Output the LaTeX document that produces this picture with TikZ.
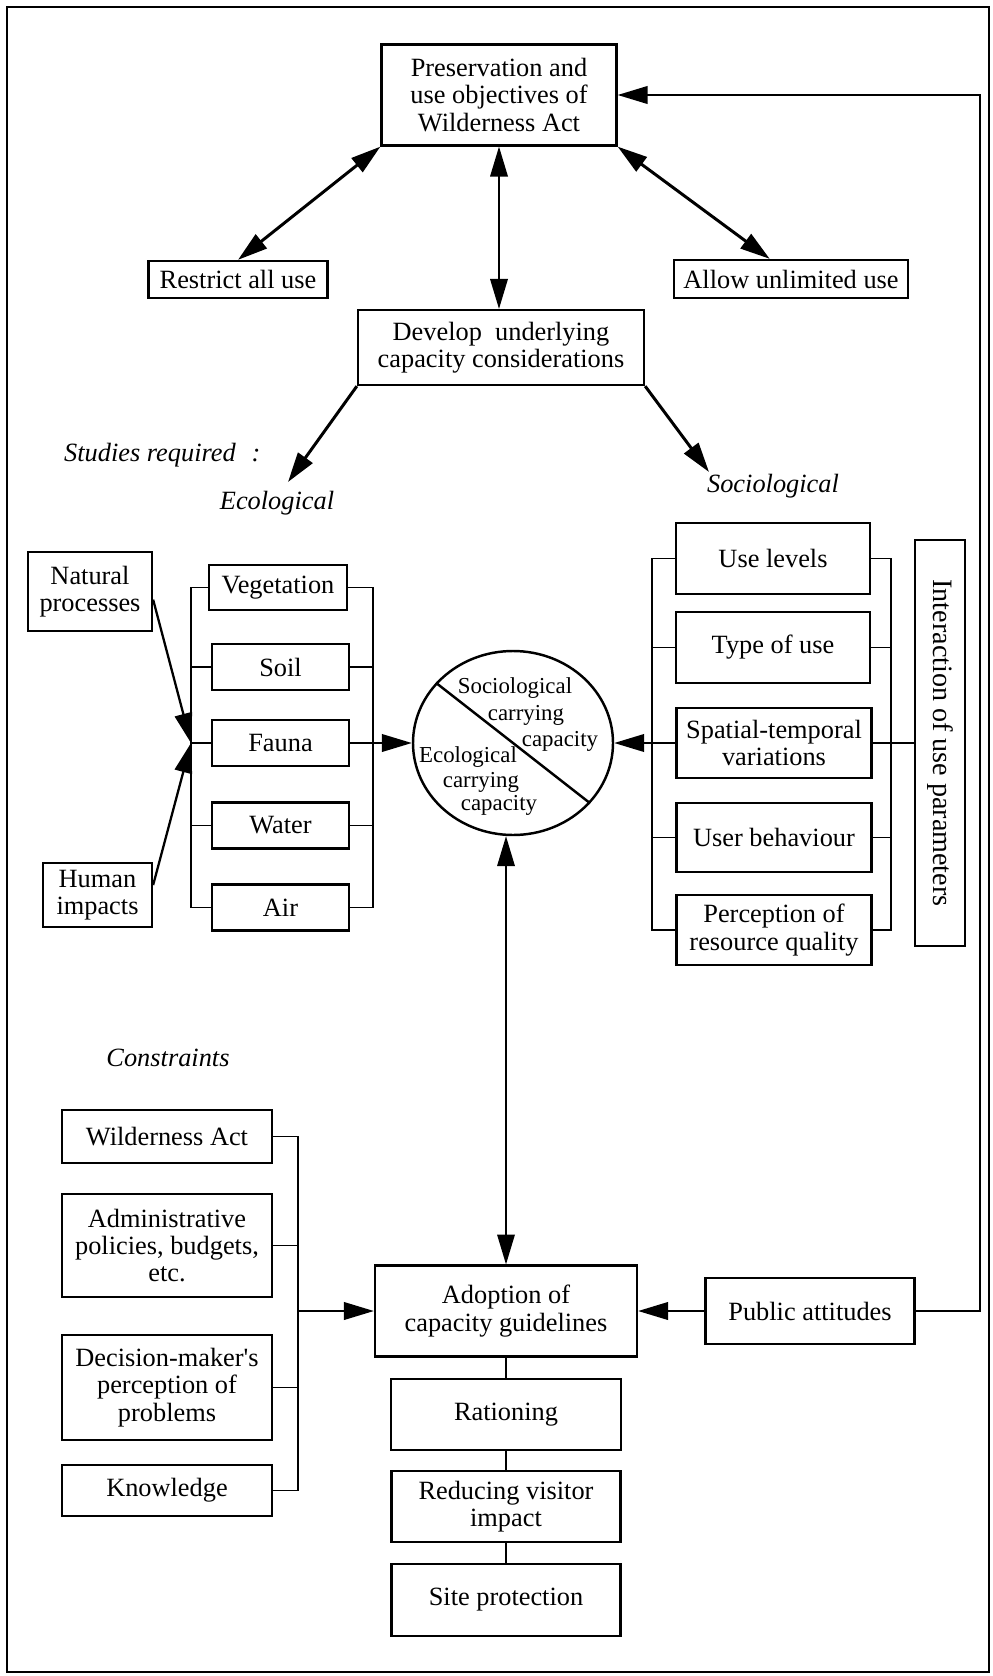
\documentclass[tikz,border=0pt]{standalone}
\usepackage{fontspec}
\setmainfont{Liberation Serif}
% same face without TeX ligature mapping, for a straight apostrophe
\newfontfamily\plainserif{Liberation Serif}
\usetikzlibrary{arrows.meta,calc,shapes.geometric}

\begin{document}
\begin{tikzpicture}[x=0.02cm,y=-0.02cm,
  sz/.style 2 args={minimum width=#1*0.02cm, minimum height=#2*0.02cm},
  box/.style={draw, line width=1.3pt, align=center, inner sep=0pt,
    font=\fontsize{15}{15.6}\selectfont},
  lbl/.style={font=\fontsize{15}{16}\selectfont\itshape},
  ctext/.style={font=\fontsize{13}{14}\selectfont, inner sep=0pt},
  conn/.style={line width=1.1pt},
  tip/.style={-{Triangle[length=17pt,width=10pt]}},
  dtip/.style={{Triangle[length=17pt,width=10pt]}-{Triangle[length=17pt,width=10pt]}}
]
% page frame
\path[use as bounding box] (0,0) rectangle (992,1676);
\draw[line width=1.2pt] (7,7) rectangle (989,1672);

% --- upper part -------------------------------------------------------
\node[box, sz={235}{101}] (top) at (499,95)
  {Preservation and\\use objectives of\\Wilderness Act};
\node[box, sz={179}{37}] (restrict) at (238,279.5) {Restrict all use};
\node[box, sz={234}{38}] (allow) at (791,279) {Allow unlimited use};
\node[box, sz={286}{75}] (dev) at (501,347.5)
  {Develop\ \ underlying\\capacity considerations};

\draw[dtip, line width=1.7pt] (top.south west) -- (restrict.north);
\draw[dtip, line width=1.7pt] (top.south east)
  -- ($(allow.north west)!0.41!(allow.north east)$);
\draw[dtip, line width=0.9pt] (top.south) -- (top.south |- dev.north);

\coordinate (ecotip) at (288,482);
\coordinate (soctip) at (709,472);
\draw[tip, line width=1.7pt] (dev.south west) -- (ecotip);
\draw[tip, line width=1.7pt] (dev.south east) -- (soctip);

\node[lbl, anchor=west] (studies) at (58,455) {Studies required\hspace{0.6em}:};
\node[lbl] (ecolbl) at (277,503) {Ecological};
\node[lbl] (soclbl) at (773,486) {Sociological};

% --- ecological studies ------------------------------------------------
\node[box, sz={124}{79}] (natural) at (90,591.5) {Natural\\processes};
\node[box, sz={109}{64}] (human) at (97.5,895) {Human\\impacts};

\node[box, sz={138}{45}] (veg) at (278,587.5) {Vegetation};
\node[box, sz={137}{46}] (soil) at (280.5,667) {Soil};
\node[box, sz={137}{46}] (fauna) at (280.5,743) {Fauna};
\node[box, sz={137}{46}] (water) at (280.5,825.5) {Water};
\node[box, sz={137}{46}] (air) at (280.5,907.5) {Air};

\coordinate (lbx) at (191,0);
\coordinate (rbx) at (373,0);
\draw[conn] (veg.west) -- (veg.west -| lbx) -- (air.west -| lbx) -- (air.west);
\foreach \n in {soil,fauna,water} \draw[conn] (\n.west) -- (\n.west -| lbx);
\draw[conn] (veg.east) -- (veg.east -| rbx) -- (air.east -| rbx) -- (air.east);
\foreach \n in {soil,fauna,water} \draw[conn] (\n.east) -- (\n.east -| rbx);

\draw[tip, line width=1.3pt] ($(natural.north east)!0.6!(natural.south east)$) -- (fauna.west -| lbx);
\draw[tip, line width=1.3pt] ($(human.north east)!0.35!(human.south east)$) -- (fauna.west -| lbx);

% --- carrying capacity circle -------------------------------------------
\node[draw, ellipse, sz={200}{184}, line width=1.4pt, inner sep=0pt] (circ) at (513,743) {};
\draw[line width=1.4pt] (circ.142) -- (circ.-38);
\node[ctext, anchor=base] (s1) at (515,693) {Sociological};
\node[ctext, anchor=base] (s2) at (526,720) {carrying};
\node[ctext, anchor=base] (s3) at (560,746) {capacity};
\node[ctext, anchor=base] (e1) at (468,762) {Ecological};
\node[ctext, anchor=base] (e2) at (481,787) {carrying};
\node[ctext, anchor=base] (e3) at (499,810) {capacity};

\draw[tip, conn] (fauna.east -| rbx) -- (circ.west);

% --- sociological studies ------------------------------------------------
\node[box, sz={194}{71}] (uselev) at (773,558.5) {Use levels};
\node[box, sz={194}{71}] (typeuse) at (773,647.5) {Type of use};
\node[box, sz={195}{70}] (spatial) at (774,743) {Spatial-temporal\\variations};
\node[box, sz={195}{69}] (userbeh) at (774,837.5) {User behaviour};
\node[box, sz={195}{70}] (percep) at (774,930) {Perception of\\resource quality};

\coordinate (slx) at (652,0);
\coordinate (srx) at (891,0);
\draw[conn] (uselev.west) -- (uselev.west -| slx) -- (percep.west -| slx) -- (percep.west);
\foreach \n in {typeuse,spatial,userbeh} \draw[conn] (\n.west) -- (\n.west -| slx);
\draw[conn] (uselev.east) -- (uselev.east -| srx) -- (percep.east -| srx) -- (percep.east);
\foreach \n in {typeuse,userbeh} \draw[conn] (\n.east) -- (\n.east -| srx);

\node[draw, line width=1.3pt, sz={50}{406}, inner sep=0pt] (inter) at (940,743) {};
\node[rotate=-90, font=\fontsize{16}{17}\selectfont] (intertext) at (inter.center)
  {Interaction of use parameters};
\draw[conn] (spatial.east) -- (inter.west);
\draw[tip, conn] (spatial.west -| slx) -- (circ.east);

% --- constraints ---------------------------------------------------------
\node[lbl] (constr) at (168,1058) {Constraints};
\node[box, sz={210}{53}] (wact) at (167,1136.5) {Wilderness Act};
\node[box, sz={210}{103}] (admin) at (167,1245.5) {Administrative\\policies, budgets,\\etc.};
\node[box, sz={210}{105}] (dmaker) at (167,1387.5) {Decision-maker{\plainserif '}s\\perception of\\problems};
\node[box, sz={210}{51}] (know) at (167,1490.5) {Knowledge};

\coordinate (cbx) at (298,0);
\draw[conn] (wact.east) -- (wact.east -| cbx) -- (know.east -| cbx) -- (know.east);
\foreach \n in {admin,dmaker} \draw[conn] (\n.east) -- (\n.east -| cbx);

% --- guidelines and management -----------------------------------------
\node[box, sz={262}{91}] (adopt) at (506,1311) {Adoption of\\capacity guidelines};
\node[box, sz={209}{66}] (public) at (810,1311) {Public attitudes};
\node[box, sz={230}{71}] (ration) at (506,1414.5) {Rationing};
\node[box, sz={229}{71}] (reduce) at (506,1506.5) {Reducing visitor\\impact};
\node[box, sz={229}{72}] (site) at (506,1600) {Site protection};

\draw[tip, conn] (adopt.west -| cbx) -- (adopt.west);
\draw[tip, conn] (public.west) -- (adopt.east);
\draw[dtip, line width=0.9pt] (adopt.north) -- (adopt.north |- circ.south);
\draw[conn] (adopt.south) -- (ration.north);
\draw[conn] (ration.south) -- (reduce.north);
\draw[conn] (reduce.south) -- (site.north);

\coordinate (fbx) at (980,0);
\draw[tip, conn] (public.east) -| (top.east -| fbx) -- (top.east);
\end{tikzpicture}
\end{document}
